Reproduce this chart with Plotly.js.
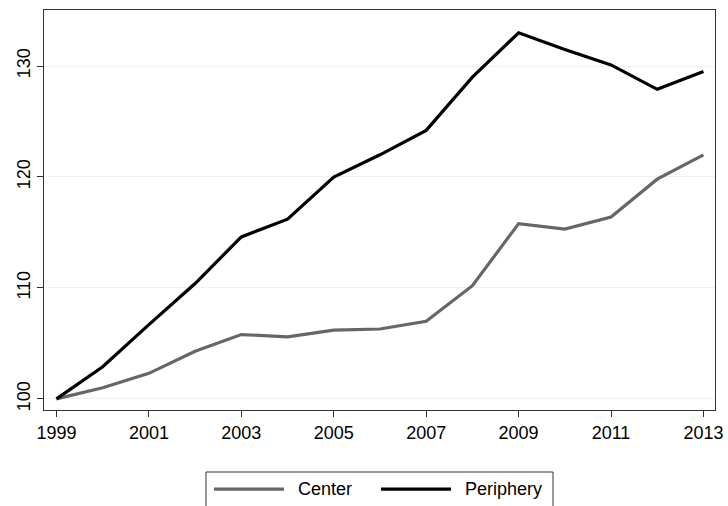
<!DOCTYPE html>
<html>
<head>
<meta charset="utf-8">
<script src="https://cdn.plot.ly/plotly-3.0.1.min.js"></script>
<style>
  html, body { margin: 0; padding: 0; background: #fff; }
  #chart { width: 728px; height: 506px; }
</style>
</head>
<body>
<div id="chart"></div>
<script>
// years on the x axis
let years = [1999, 2000, 2001, 2002, 2003, 2004, 2005, 2006, 2007, 2008, 2009, 2010, 2011, 2012, 2013];
// index values (1999 = 100)
let center = [100, 101.0, 102.3, 104.3, 105.8, 105.6, 106.2, 106.3, 107.0, 110.2, 115.8, 115.3, 116.4, 119.8, 122.0];
let periphery = [100, 102.9, 106.7, 110.4, 114.6, 116.2, 120.0, 122.0, 124.2, 129.0, 133.0, 131.5, 130.1, 127.9, 129.5];
let seriesNames = ['Center', 'Periphery'];
let seriesColors = ['#666666', '#000000'];
let xTicks = [1999, 2001, 2003, 2005, 2007, 2009, 2011, 2013];
let yTicks = [100, 110, 120, 130];

let fontFam = 'Liberation Sans, Arial, sans-serif';

let data = [{ // Center
    x: years,
    y: center,
    name: seriesNames[0],
    mode: 'lines',
    line: { color: seriesColors[0], width: 3.2 },
}, { // Periphery
    x: years,
    y: periphery,
    name: seriesNames[1],
    mode: 'lines',
    line: { color: seriesColors[1], width: 3.2 },
}];

// hand-made legend so the keys are as long as in the picture
let legendShapes = [{
    type: 'rect', xref: 'paper', yref: 'paper',
    x0: 0.2414, x1: 0.7586, y0: -0.30, y1: -0.155,
    line: { color: '#333333', width: 1 },
}, {
    type: 'line', xref: 'paper', yref: 'paper',
    x0: 0.2534, x1: 0.3577, y0: -0.198, y1: -0.198,
    line: { color: seriesColors[0], width: 3.2 },
}, {
    type: 'line', xref: 'paper', yref: 'paper',
    x0: 0.5022, x1: 0.6066, y0: -0.198, y1: -0.198,
    line: { color: seriesColors[1], width: 3.2 },
}];
let legendText = [{
    xref: 'paper', yref: 'paper', x: 0.3756, y: -0.198,
    xanchor: 'left', yanchor: 'middle', showarrow: false,
    text: seriesNames[0],
    font: { family: fontFam, size: 18, color: '#000' },
}, {
    xref: 'paper', yref: 'paper', x: 0.6244, y: -0.198,
    xanchor: 'left', yanchor: 'middle', showarrow: false,
    text: seriesNames[1],
    font: { family: fontFam, size: 18, color: '#000' },
}];

let layout = {
    width: 728,
    height: 506,
    margin: { l: 44, r: 13, t: 10, b: 96, pad: 0 },
    paper_bgcolor: '#ffffff',
    plot_bgcolor: '#ffffff',
    showlegend: false,
    font: { family: fontFam, size: 18, color: '#000' },
    xaxis: {
        range: [1998.73, 2013.25],
        tickvals: xTicks,
        ticktext: xTicks.map(String),
        showgrid: false,
        zeroline: false,
        showline: true,
        mirror: true,
        linecolor: '#333333',
        linewidth: 1,
        ticks: 'outside',
        ticklen: 6,
        tickcolor: '#333333',
        tickfont: { family: fontFam, size: 18, color: '#000' },
    },
    yaxis: {
        range: [99.0, 135.05],
        tickvals: yTicks,
        ticktext: yTicks.map(String),
        tickangle: -90,
        showgrid: true,
        gridcolor: '#eaf2f3',
        gridwidth: 1,
        zeroline: false,
        showline: true,
        mirror: true,
        linecolor: '#333333',
        linewidth: 1,
        ticks: 'outside',
        ticklen: 6,
        tickcolor: '#333333',
        tickfont: { family: fontFam, size: 18, color: '#000' },
    },
    shapes: legendShapes,
    annotations: legendText,
};

let config = { staticPlot: true, displayModeBar: false };

Plotly.newPlot('chart', data, layout, config);
</script>
</body>
</html>
